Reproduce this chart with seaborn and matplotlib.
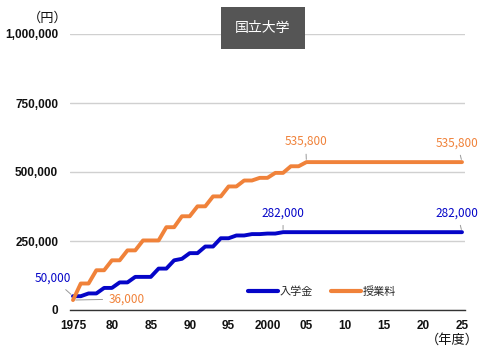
import pandas as pd
import seaborn as sns
import matplotlib.pyplot as plt

# 年度 (1975-2025)
years = list(range(1975, 2026))

# 入学金 (円)
nyugakukin = [50000, 50000, 60000, 60000, 80000, 80000, 100000, 100000,
              120000, 120000, 120000, 150000, 150000, 180000, 185400, 206000,
              206000, 230000, 230000, 260000, 260000, 270000, 270000, 275000,
              275000, 277000, 277000, 282000] + [282000] * 23

# 授業料 (円)
jugyoryo = [36000, 96000, 96000, 144000, 144000, 180000, 180000, 216000,
            216000, 252000, 252000, 252000, 300000, 300000, 339600, 339600,
            375600, 375600, 411600, 411600, 447600, 447600, 469200, 469200,
            478800, 478800, 496800, 496800, 520800, 520800, 535800] + [535800] * 20

xtick_vals = [1975, 1980, 1985, 1990, 1995, 2000, 2005, 2010, 2015, 2020, 2025]
xtick_labels = ['1975', '80', '85', '90', '95', '2000', '05', '10', '15', '20', '25']
ytick_vals = [0, 250000, 500000, 750000, 1000000]

blue = '#0505c8'
orange = '#f0823a'

df = pd.DataFrame({'年度': years * 2,
                   '金額': nyugakukin + jugyoryo,
                   '区分': ['入学金'] * len(years) + ['授業料'] * len(years)})

sns.set_style('white')
plt.rcParams['font.family'] = ['Noto Sans CJK JP', 'DejaVu Sans']

fig = plt.figure(figsize=(4.93, 3.52), dpi=100)
ax = fig.add_axes([70 / 493, 1 - 310 / 352, 395 / 493, 276 / 352])

sns.lineplot(data=df, x='年度', y='金額', hue='区分',
             palette={'入学金': blue, '授業料': orange},
             linewidth=2.8, ax=ax, clip_on=False)

ax.set_xlim(1975 - 3 / 7.78, 2025 + 3 / 7.78)
ax.set_ylim(0, 1000000)
ax.set_xticks(xtick_vals)
ax.set_xticklabels(xtick_labels)
ax.set_yticks(ytick_vals)
ax.set_yticklabels([f'{v:,}' for v in ytick_vals])
ax.tick_params(axis='both', length=0, labelsize=8.5, colors='#111111')
for t in ax.get_xticklabels() + ax.get_yticklabels():
    t.set_fontweight('bold')
    t.set_family('Liberation Sans')
ax.tick_params(axis='x', pad=7)
ax.tick_params(axis='y', pad=8.5)
ax.set_xlabel('')
ax.set_ylabel('')
ax.yaxis.grid(True, color='#d0d0d0', linewidth=1)
ax.set_axisbelow(True)
sns.despine(ax=ax, left=True, top=True, right=True)
ax.spines['bottom'].set_color('#333333')
ax.spines['bottom'].set_linewidth(1)

leg = ax.legend(loc='center', bbox_to_anchor=(322 / 493, 1 - 292 / 352),
                bbox_transform=fig.transFigure, ncol=2, frameon=False,
                handlelength=2.7, columnspacing=1.6, handletextpad=0.2,
                fontsize=8)
for line in leg.get_lines():
    line.set_linewidth(3)

# 値ラベル
lead = dict(arrowstyle='-', color='#999999', lw=0.7)
ax.annotate('50,000', xy=(1975, nyugakukin[0]), xytext=(1972.4, 116000),
            color=blue, fontsize=8.5, ha='center', va='center',
            annotation_clip=False, arrowprops=lead)
ax.annotate('36,000', xy=(1975, jugyoryo[0]), xytext=(1981.9, 40000),
            color=orange, fontsize=8.5, ha='center', va='center',
            annotation_clip=False, arrowprops=lead)
ax.annotate('535,800', xy=(2005, jugyoryo[30]), xytext=(2004.9, 610000),
            color=orange, fontsize=8.5, ha='center', va='center',
            arrowprops=lead)
ax.annotate('535,800', xy=(2025, jugyoryo[-1]), xytext=(2024.4, 606000),
            color=orange, fontsize=8.5, ha='center', va='center',
            annotation_clip=False, arrowprops=lead)
ax.annotate('282,000', xy=(2002, nyugakukin[27]), xytext=(2002.0, 352000),
            color=blue, fontsize=8.5, ha='center', va='center',
            arrowprops=lead)
ax.annotate('282,000', xy=(2025, nyugakukin[-1]), xytext=(2024.4, 352000),
            color=blue, fontsize=8.5, ha='center', va='center',
            annotation_clip=False, arrowprops=lead)

fig.text(48 / 493, 1 - 18 / 352, '（円）', fontsize=9.5, ha='center',
         va='center', color='#111111')
fig.text(452 / 493, 1 - 340 / 352, '（年度）', fontsize=9.5, ha='center',
         va='center', color='#111111')
fig.text(263 / 493, 1 - 28 / 352, '国立大学', fontsize=10, ha='center',
         va='center', color='white',
         bbox=dict(boxstyle='square,pad=1.0', facecolor='#555555',
                   edgecolor='none'))

fig.savefig('out.png', dpi=100)
